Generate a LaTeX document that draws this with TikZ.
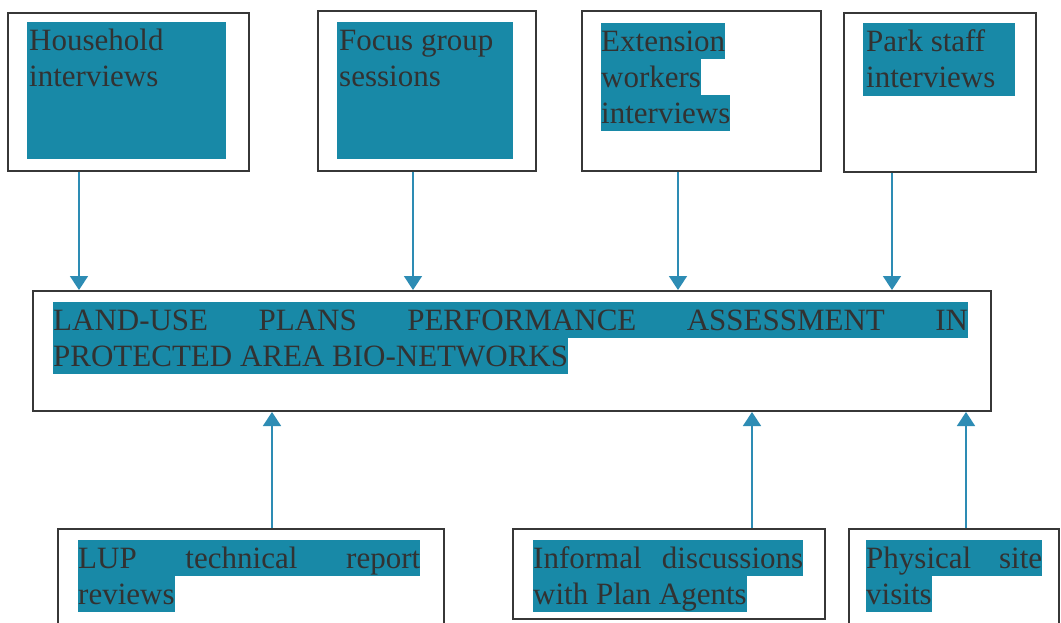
\documentclass[tikz,border=0pt]{standalone}
\usepackage{fontspec}
\setmainfont{Liberation Serif}
\usepackage{xcolor}
\usetikzlibrary{arrows.meta}
\definecolor{hl}{RGB}{24,137,167}
\definecolor{flowcol}{RGB}{45,140,180}
\definecolor{ink}{RGB}{50,50,50}
\definecolor{framecol}{RGB}{55,55,55}
\tikzset{>=stealth,
  frame/.style={draw=framecol, line width=2pt, anchor=north west, inner sep=0pt},
  hlblock/.style={fill=hl, anchor=north west, inner sep=0pt},
  txtline/.style={anchor=base west, inner sep=0pt, text height=28pt, text depth=8pt,
    text=ink, font=\fontsize{31pt}{36pt}\selectfont},
  hlline/.style={txtline, fill=hl},
  flow/.style={draw=flowcol, line width=1.6pt, -{Triangle[width=18pt,length=14pt]}}}

\begin{document}
\begin{tikzpicture}[x=1pt,y=-1pt]
  \useasboundingbox[fill=white] (0,0) rectangle (1061,622);
  % top row
  \node[frame, minimum width=241pt, minimum height=158pt] (hh) at (7,12) {};
  \node[hlblock, minimum width=199pt, minimum height=137pt] (hhblk) at (27,22) {};
  \node[txtline] (hh1) at (29,50) {Household};
  \node[txtline] (hh2) at (29,86) {interviews};

  \node[frame, minimum width=218pt, minimum height=160pt] (fg) at (317,10) {};
  \node[hlblock, minimum width=176pt, minimum height=137pt] (fgblk) at (337,22) {};
  \node[txtline] (fg1) at (339,50) {Focus group};
  \node[txtline] (fg2) at (339,86) {sessions};

  \node[frame, minimum width=239pt, minimum height=160pt] (ext) at (581,10) {};
  \node[hlline] (ext1) at (601,51) {Extension};
  \node[hlline] (ext2) at (601,87) {workers};
  \node[hlline] (ext3) at (601,123) {interviews};

  \node[frame, minimum width=192pt, minimum height=159pt] (park) at (843,12) {};
  \node[hlblock, minimum width=152pt, minimum height=73pt] (parkblk) at (863,23) {};
  \node[txtline] (park1) at (866,51) {Park staff};
  \node[txtline] (park2) at (866,87) {interviews};

  % central box
  \node[frame, minimum width=958pt, minimum height=120pt] (main) at (32,290) {};
  \node[hlline] (main1) at (53,330) {\makebox[915pt][s]{LAND-USE PLANS PERFORMANCE ASSESSMENT IN}};
  \node[hlline] (main2) at (53,366) {PROTECTED AREA BIO-NETWORKS};

  % bottom row
  \node[frame, minimum width=386pt, minimum height=97pt] (lup) at (57,528) {};
  \node[hlline] (lup1) at (78,568) {\makebox[342pt][s]{LUP technical report}};
  \node[hlline] (lup2) at (78,604) {reviews};

  \node[frame, minimum width=312pt, minimum height=90pt] (inf) at (512,528) {};
  \node[hlline] (inf1) at (533,568) {\makebox[270pt][s]{Informal discussions}};
  \node[hlline] (inf2) at (533,604) {with Plan Agents};

  \node[frame, minimum width=210pt, minimum height=97pt] (site) at (848,528) {};
  \node[hlline] (site1) at (866,568) {\makebox[176pt][s]{Physical site}};
  \node[hlline] (site2) at (866,604) {visits};

  % connectors
  \coordinate (hhout) at ([xshift=72pt]hh.south west);
  \coordinate (fgout) at ([xshift=96pt]fg.south west);
  \coordinate (extout) at ([xshift=97pt]ext.south west);
  \coordinate (parkout) at ([xshift=49pt]park.south west);
  \coordinate (lupout) at ([xshift=215pt]lup.north west);
  \coordinate (infout) at ([xshift=240pt]inf.north west);
  \coordinate (siteout) at ([xshift=118pt]site.north west);
  \foreach \src in {hhout,fgout,extout,parkout}
    \draw[flow] (\src) -- (\src |- main.north);
  \foreach \src in {lupout,infout,siteout}
    \draw[flow] (\src) -- (\src |- main.south);
\end{tikzpicture}
\end{document}
